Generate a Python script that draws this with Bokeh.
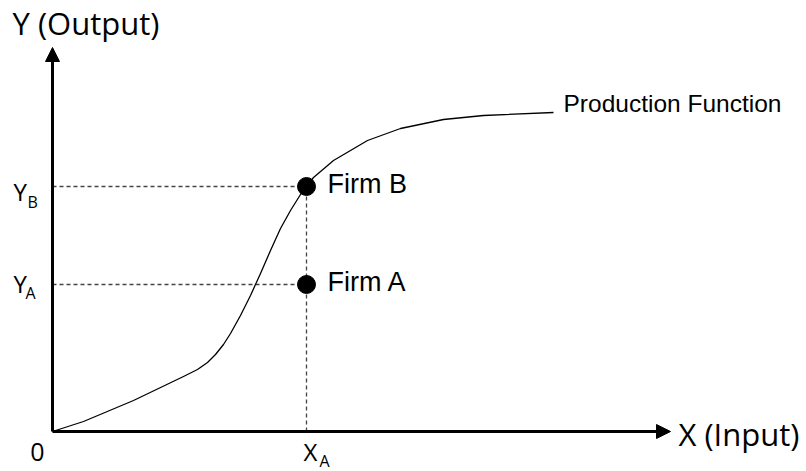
from bokeh.plotting import figure
from bokeh.models import Range1d, Arrow, NormalHead
from bokeh.core.properties import value
from bokeh.embed import file_html
from bokeh.resources import INLINE

# Production function curve (input X, output Y)
curve_x = [0, 31, 81, 131, 145, 155, 163, 171, 178, 188, 198, 208, 218, 228, 238, 248, 254, 261, 281, 315, 348, 391, 431, 501]
curve_y = [0, 10, 31, 55, 62, 69, 77, 87, 98, 116, 136, 158, 181, 203, 221, 237, 245, 254, 271, 291, 303, 312, 316, 319]

# Firms
firm_names = ["Firm B", "Firm A"]
firm_x = [254, 254]
firm_y = [245, 147]

axis_x_end = 618
axis_y_end = 384

p = figure(width=806, height=471, output_backend="svg", toolbar_location=None,
           x_range=Range1d(-52, 754), y_range=Range1d(-40, 431), min_border=0)
p.axis.visible = False
p.grid.visible = False
p.outline_line_color = None
p.background_fill_color = "white"
p.border_fill_color = "white"

# dashed guide lines
for fy in firm_y:
    p.line([0, firm_x[0]], [fy, fy], line_color="#444444", line_width=1.3, line_dash="4 3")
p.line([firm_x[0], firm_x[0]], [0, firm_y[0]], line_color="#444444", line_width=1.3, line_dash="4 3")

# curve
p.line(curve_x, curve_y, line_color="black", line_width=1.3, line_join="round")

# axes with arrows
p.add_layout(Arrow(end=NormalHead(size=14, fill_color="black", line_color="black", line_width=1),
                   x_start=0, y_start=0, x_end=0, y_end=axis_y_end, line_width=3, line_color="black"))
p.add_layout(Arrow(end=NormalHead(size=14, fill_color="black", line_color="black", line_width=1),
                   x_start=0, y_start=0, x_end=axis_x_end, y_end=0, line_width=3, line_color="black"))

# firm points
p.scatter(firm_x, firm_y, size=18, fill_color="black", line_color="black")

sans = value("Liberation Sans")
seg = value("Open Sans")

# firm labels
p.text(x=[x + 21 for x in firm_x], y=[firm_y[0] + 3, firm_y[1] + 3], text=firm_names,
       text_font=sans, text_font_size="27px", text_baseline="alphabetic", text_align="left", text_color="black")

# production function label
p.text(x=[511], y=[curve_y[-1] + 9], text=["Production Function"], text_font=sans, text_font_size="24.5px",
       text_baseline="alphabetic", text_align="left", text_color="black")

# axis titles
p.text(x=[-40], y=[axis_y_end + 25], text=["Y (Output)"], text_font=seg, text_font_size="31px",
       text_baseline="alphabetic", text_align="left", text_color="black")
p.text(x=[axis_x_end + 8], y=[-2], text=["X (Input)"], text_font=seg, text_font_size="31px",
       text_baseline="alphabetic", text_align="left", text_color="black")
p.text(x=[-15], y=[-20], text=["0"], text_font=seg, text_font_size="25px",
       text_baseline="alphabetic", text_align="center", text_color="black")

# Y_B, Y_A labels
p.text(x=[-39, -39], y=[firm_y[0] - 5, firm_y[1] + 1], text=["Y", "Y"], text_font=seg, text_font_size="24px",
       text_baseline="alphabetic", text_align="left", text_color="black")
p.text(x=[-25, -27], y=[firm_y[0] - 15, firm_y[1] - 8], text=["B", "A"], text_font=seg, text_font_size="16px",
       text_baseline="alphabetic", text_align="left", text_color="black")

# X_A label
p.text(x=[firm_x[0] - 3], y=[-20], text=["X"], text_font=seg, text_font_size="24px",
       text_baseline="alphabetic", text_align="left", text_color="black")
p.text(x=[firm_x[0] + 13], y=[-29], text=["A"], text_font=seg, text_font_size="16px",
       text_baseline="alphabetic", text_align="left", text_color="black")

open("out.html", "w").write(file_html(p, INLINE))
